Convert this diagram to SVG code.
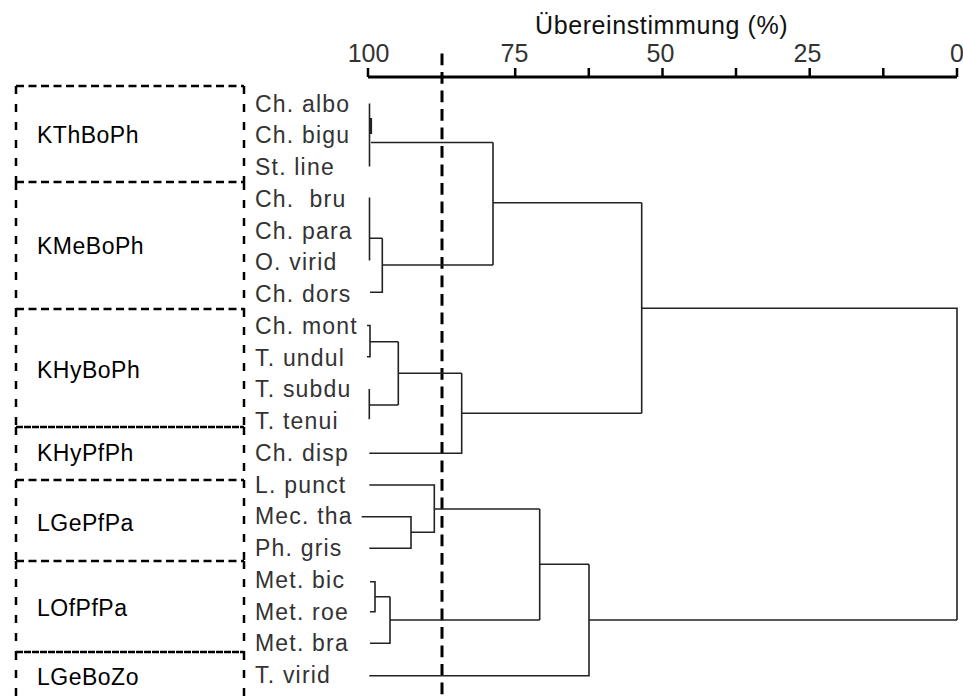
<svg xmlns="http://www.w3.org/2000/svg" width="963" height="699" viewBox="0 0 963 699">
<style>
  .sp { font-family: "Liberation Sans", Arial, sans-serif; font-size: 23px; fill: #333; letter-spacing: 1.2px; }
  .grp { font-family: "Liberation Sans", Arial, sans-serif; font-size: 23px; fill: #000; letter-spacing: 0.5px; }
  .ax { font-family: "Liberation Sans", Arial, sans-serif; font-size: 25px; fill: #333; }
  .title { font-family: "Liberation Sans", Arial, sans-serif; font-size: 25px; fill: #111; letter-spacing: 0.6px; }
  .hd { stroke: #000; stroke-width: 2.5; stroke-dasharray: 8 4.5; fill: none; }
  .hs { stroke: #000; stroke-width: 2.5; stroke-dasharray: 7 1; fill: none; }
  .vd { stroke: #000; stroke-width: 2.5; stroke-dasharray: 8 10; fill: none; }
  .ln { stroke: #222; stroke-width: 1.6; fill: none; }
</style>
<rect width="963" height="699" fill="#fff"/>

<g id="axis">
  <text class="title" x="535" y="33.5">Übereinstimmung (%)</text>
  <text class="ax" x="368.5" y="62" text-anchor="middle">100</text>
  <text class="ax" x="514.5" y="62" text-anchor="middle">75</text>
  <text class="ax" x="660.5" y="62" text-anchor="middle">50</text>
  <text class="ax" x="807.5" y="62" text-anchor="middle">25</text>
  <text class="ax" x="950" y="62">0</text>
  <path d="M368,77 H957" stroke="#000" stroke-width="3"/>
  <path d="M368,68 V77 M515.2,68 V77 M588.8,68 V77 M662.5,68 V77 M736,68 V77 M809.7,68 V77 M883.3,68 V77 M957,68 V77" stroke="#000" stroke-width="2.5"/>
</g>

<g id="cutoff-line">
  <path d="M442,53.5 V699" stroke="#000" stroke-width="3" stroke-dasharray="11.7 6.8"/>
</g>

<g id="box-KThBoPh">
  <path class="hd" d="M16,86 H244"/>
  <path class="vd" d="M16,86 V182 M244,86 V182"/>
  <text class="grp" x="37" y="143">KThBoPh</text>
</g>
<g id="box-KMeBoPh">
  <path class="hd" d="M16,182 H244"/>
  <path class="vd" d="M16,182 V309 M244,182 V309"/>
  <text class="grp" x="37" y="254">KMeBoPh</text>
</g>
<g id="box-KHyBoPh">
  <path class="hd" d="M16,309 H244"/>
  <path class="vd" d="M16,309 V427 M244,309 V427"/>
  <text class="grp" x="37" y="378">KHyBoPh</text>
</g>
<g id="box-KHyPfPh">
  <path class="hs" d="M16,427 H244"/>
  <path class="vd" d="M16,427 V480 M244,427 V480"/>
  <text class="grp" x="37" y="461">KHyPfPh</text>
</g>
<g id="box-LGePfPa">
  <path class="hd" d="M16,480 H244"/>
  <path class="vd" d="M16,480 V561 M244,480 V561"/>
  <text class="grp" x="37" y="531">LGePfPa</text>
</g>
<g id="box-LOfPfPa">
  <path class="hd" d="M16,561 H244"/>
  <path class="vd" d="M16,561 V652 M244,561 V652"/>
  <text class="grp" x="37" y="616">LOfPfPa</text>
</g>
<g id="box-LGeBoZo">
  <path class="hs" d="M16,652 H244"/>
  <path class="vd" d="M16,652 V699 M244,652 V699"/>
  <text class="grp" x="37" y="685">LGeBoZo</text>
</g>

<g id="leaf-ch-albo"><text class="sp" x="255" y="111.7">Ch. albo</text></g>
<g id="leaf-ch-bigu"><text class="sp" x="255" y="143.4">Ch. bigu</text></g>
<g id="leaf-st-line"><text class="sp" x="255" y="175.2">St. line</text></g>
<g id="leaf-ch-bru"><text class="sp" x="255" y="206.9" xml:space="preserve">Ch.  bru</text></g>
<g id="leaf-ch-para"><text class="sp" x="255" y="238.7">Ch. para</text></g>
<g id="leaf-o-virid"><text class="sp" x="255" y="270.4">O. virid</text></g>
<g id="leaf-ch-dors"><text class="sp" x="255" y="302.1">Ch. dors</text></g>
<g id="leaf-ch-mont"><text class="sp" x="255" y="333.9">Ch. mont</text></g>
<g id="leaf-t-undul"><text class="sp" x="255" y="365.6">T. undul</text></g>
<g id="leaf-t-subdu"><text class="sp" x="255" y="397.4">T. subdu</text></g>
<g id="leaf-t-tenui"><text class="sp" x="255" y="429.1">T. tenui</text></g>
<g id="leaf-ch-disp"><text class="sp" x="255" y="460.8">Ch. disp</text></g>
<g id="leaf-l-punct"><text class="sp" x="255" y="492.6">L. punct</text></g>
<g id="leaf-mec-tha"><text class="sp" x="255" y="524.3">Mec. tha</text></g>
<g id="leaf-ph-gris"><text class="sp" x="255" y="556">Ph. gris</text></g>
<g id="leaf-met-bic"><text class="sp" x="255" y="587.8">Met. bic</text></g>
<g id="leaf-met-roe"><text class="sp" x="255" y="619.5">Met. roe</text></g>
<g id="leaf-met-bra"><text class="sp" x="255" y="651.3">Met. bra</text></g>
<g id="leaf-t-virid"><text class="sp" x="255" y="683">T. virid</text></g>

<g id="connectors" class="ln">
  <path d="M369.5,103.5 V166.5"/>
  <path d="M371,118 V134" stroke-width="2.2"/>
  <path d="M371,142.5 H493"/>
  <path d="M369.5,197.5 V260.5 M369.5,238.3 H382.3 M370,292.3 H382.3 V238.3 M382.3,265 H493"/>
  <path d="M493,142.5 V265 M493,202.7 H641.7"/>
  <path d="M367,325.5 H370 V356.7 H367 M370,341.7 H398.3"/>
  <path d="M369.3,389 V419.3 M369.3,405 H398.3"/>
  <path d="M398.3,341.7 V405 M398.3,373.3 H461.7"/>
  <path d="M369.3,453.3 H461.7 V373.3 M461.7,413.3 H641.7"/>
  <path d="M641.7,202.7 V413.3 M641.7,308.3 H957 V620"/>
  <path d="M369.3,485 H434.3 V532.3 H411"/>
  <path d="M361.7,516.7 H411 V548.3 H369.3"/>
  <path d="M434.3,509 H539.7"/>
  <path d="M370,581.7 H375 V611.7 H370 M375,596.7 H390"/>
  <path d="M370,643.3 H390 V596.7 M390,620 H539.7"/>
  <path d="M539.7,509 V620 M539.7,564.3 H589"/>
  <path d="M369.3,675.7 H589 V564.3 M589,620 H957"/>
</g>
</svg>
